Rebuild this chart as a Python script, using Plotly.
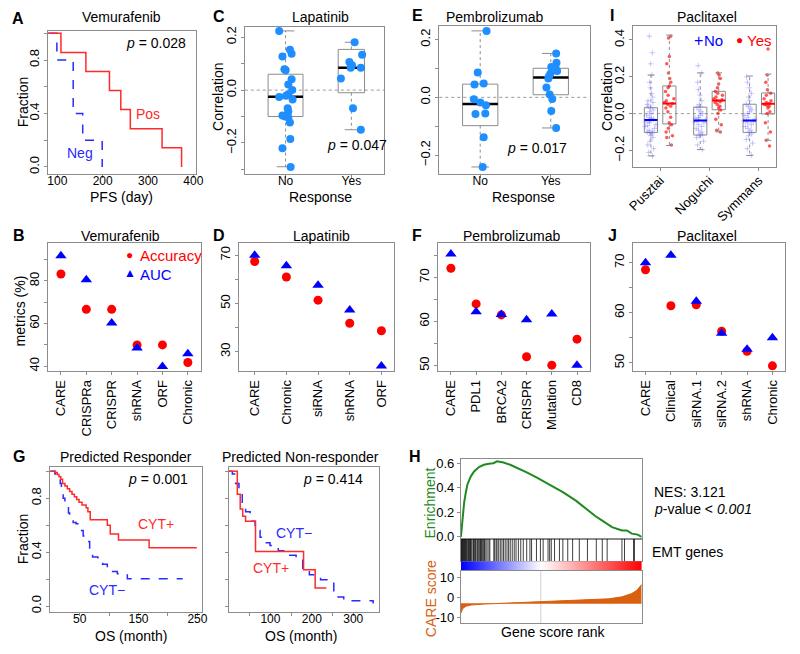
import plotly.graph_objects as go

W, H = 800, 654
FONT = "Liberation Sans, Arial, sans-serif"
GRAY = "#8c8c8c"
RED = "#ff0000"
BLUE = "#0000ff"
KRED = "#ff2a2a"
KBLUE = "#2a2aff"
DOTBLUE = "#1f8fff"
GREEN = "#1f8a1f"
ORANGE = "#d9600f"

# ---------------- DATA ----------------
# A: Vemurafenib PFS Kaplan-Meier
A_POS_DAY = [0, 108, 163, 215, 240, 261, 331, 374]
A_POS_FRAC = [1.0, 0.857, 0.714, 0.571, 0.429, 0.286, 0.143, 0.0]
A_NEG_DAY = [0, 99, 135, 156, 199]
A_NEG_FRAC = [1.0, 0.8, 0.4, 0.2, 0.0]

# C: Lapatinib correlation by response
RESPONSE = ["No", "Yes"]
C_NO_CORR = [0.224, 0.1275, 0.1525, 0.1375, 0.079, 0.075, 0.041, 0.021, 0.0, -0.016, -0.021,
             -0.026, -0.036, -0.069, -0.081, -0.096, -0.1, -0.104, -0.1225, -0.185, -0.22, -0.291]
C_NO_JIT = [-0.097, -0.047, 0.067, 0.092, -0.017, 0.002, 0.092, 0.042, 0.102, 0.042, 0.007,
            -0.097, 0.107, 0.032, 0.042, -0.047, -0.007, 0.042, 0.067, 0.072, -0.047, 0.077]
C_YES_CORR = [0.181, 0.134, 0.106, 0.094, 0.085, 0.085, 0.044, -0.069, -0.15]
C_YES_JIT = [0.05, 0.164, -0.03, 0.01, 0.144, -0.01, -0.159, 0.025, 0.144]
C_Q1 = [-0.1, -0.01]
C_MED = [-0.025, 0.085]
C_Q3 = [0.06, 0.154]
C_LO = [-0.29, -0.15]
C_HI = [0.224, 0.181]

# E: Pembrolizumab correlation by response
E_NO_CORR = [0.2297, 0.0857, 0.0446, 0.048, -0.0069, -0.018, -0.027, -0.058, -0.056, -0.138, -0.241]
E_NO_JIT = [0.09, -0.035, -0.081, 0.049, -0.09, 0.002, 0.081, -0.067, 0.072, 0.049, 0.035]
E_YES_CORR = [0.152, 0.12, 0.103, 0.105, 0.091, 0.082, 0.073, 0.065, 0.034, 0.010, -0.0057, -0.047, -0.106]
E_YES_JIT = [0.076, 0.081, 0.067, 0.007, 0.09, -0.007, -0.025, -0.035, -0.062, -0.016, 0.021, 0.007, 0.076]
E_Q1 = [-0.098, 0.009]
E_MED = [-0.023, 0.0686]
E_Q3 = [0.0457, 0.1006]
E_LO = [-0.241, -0.106]
E_HI = [0.23, 0.152]

# I: Paclitaxel correlation by study and response
I_STUDIES = ["Pusztai", "Noguchi", "Symmans"]
I_NO_Q1 = [-0.102, -0.116, -0.102]
I_NO_MED = [-0.034, -0.038, -0.038]
I_NO_Q3 = [0.032, 0.035, 0.051]
I_NO_LO = [-0.229, -0.195, -0.227]
I_NO_HI = [0.209, 0.221, 0.204]
I_YES_Q1 = [-0.056, 0.021, -0.002]
I_YES_MED = [0.055, 0.071, 0.054]
I_YES_Q3 = [0.15, 0.121, 0.112]
I_YES_LO = [-0.173, -0.099, -0.145]
I_YES_HI = [0.426, 0.221, 0.214]
I_PUSZTAI_NO = [0.42, 0.33, 0.27, 0.21, 0.17, 0.14, 0.11, 0.09, 0.07, 0.06, 0.05, 0.04, 0.03, 0.02,
                0.01, 0.0, -0.01, -0.02, -0.025, -0.03, -0.035, -0.04, -0.045, -0.05, -0.06, -0.065,
                -0.07, -0.08, -0.09, -0.095, -0.10, -0.105, -0.11, -0.12, -0.13, -0.15, -0.17, -0.19,
                -0.21, -0.23]
I_PUSZTAI_YES = [0.42, 0.41, 0.31, 0.27, 0.22, 0.19, 0.17, 0.15, 0.14, 0.12, 0.10, 0.08, 0.07, 0.06,
                 0.055, 0.05, 0.04, 0.03, 0.01, -0.02, -0.05, -0.06, -0.08, -0.10, -0.12, -0.13, -0.17]
I_NOGUCHI_NO = [0.26, 0.22, 0.17, 0.13, 0.10, 0.07, 0.05, 0.04, 0.035, 0.02, 0.01, 0.0, -0.01, -0.02,
                -0.025, -0.03, -0.035, -0.04, -0.045, -0.05, -0.06, -0.07, -0.08, -0.09, -0.10, -0.11,
                -0.115, -0.12, -0.13, -0.15, -0.17, -0.195]
I_NOGUCHI_YES = [0.22, 0.21, 0.19, 0.16, 0.14, 0.12, 0.11, 0.10, 0.09, 0.08, 0.075, 0.07, 0.065, 0.06,
                 0.05, 0.04, 0.03, 0.02, 0.0, -0.03, -0.06, -0.09, -0.10]
I_SYMMANS_NO = [0.20, 0.17, 0.14, 0.11, 0.09, 0.07, 0.05, 0.04, 0.03, 0.02, 0.01, 0.0, -0.01, -0.02,
                -0.03, -0.035, -0.04, -0.045, -0.05, -0.06, -0.07, -0.08, -0.09, -0.10, -0.11, -0.12,
                -0.14, -0.16, -0.19, -0.225]
I_SYMMANS_YES = [0.35, 0.21, 0.17, 0.13, 0.11, 0.10, 0.08, 0.07, 0.06, 0.055, 0.05, 0.045, 0.04, 0.03,
                 0.01, 0.0, -0.05, -0.10, -0.145, -0.175]
I_NO_POINTS = [I_PUSZTAI_NO, I_NOGUCHI_NO, I_SYMMANS_NO]
I_YES_POINTS = [I_PUSZTAI_YES, I_NOGUCHI_YES, I_SYMMANS_YES]

# B, D, F, J: metrics (%)
B_METHODS = ["CARE", "CRISPRa", "CRISPR", "shRNA", "ORF", "Chronic"]
B_ACC = [83.3, 66.7, 66.7, 50.0, 50.0, 41.7]
B_AUC = [91.8, 80.6, 60.3, 48.5, 39.8, 45.8]
D_METHODS = ["CARE", "Chronic", "siRNA", "shRNA", "ORF"]
D_ACC = [67.4, 61.0, 51.4, 41.8, 38.7]
D_AUC = [70.0, 65.6, 57.6, 47.3, 24.1]
F_METHODS = ["CARE", "PDL1", "BRCA2", "CRISPR", "Mutation", "CD8"]
F_ACC = [72.1, 64.0, 61.5, 52.0, 50.1, 56.0]
F_AUC = [75.3, 62.2, 61.6, 60.4, 61.7, 50.1]
J_METHODS = ["CARE", "Clinical", "siRNA.1", "siRNA.2", "shRNA", "Chronic"]
J_ACC = [68.6, 61.4, 61.6, 56.3, 52.3, 49.4]
J_AUC = [70.0, 71.5, 62.3, 55.9, 52.7, 55.0]

# G: OS Kaplan-Meier (month)
G_R_POS_T = [0, 8, 12, 15, 18, 21, 25, 29, 33, 37, 41, 45, 49, 54, 61, 64, 68, 97, 102, 116, 168, 249]
G_R_POS_S = [1.0, 0.99, 0.975, 0.96, 0.94, 0.91, 0.89, 0.87, 0.85, 0.83, 0.81, 0.79, 0.77, 0.75,
             0.73, 0.70, 0.64, 0.60, 0.535, 0.49, 0.432, 0.432]
G_R_NEG_T = [0, 8, 14, 17, 19, 22, 25, 28, 31, 33, 39, 44, 50, 56, 61, 67, 72, 81, 89, 97, 106, 114, 131, 225]
G_R_NEG_S = [1.0, 0.98, 0.945, 0.91, 0.85, 0.80, 0.76, 0.73, 0.69, 0.64, 0.62, 0.61, 0.56, 0.52,
             0.48, 0.40, 0.365, 0.34, 0.31, 0.28, 0.256, 0.24, 0.203, 0.203]
G_N_POS_T = [0, 20, 27, 33, 40, 64, 180, 208, 235]
G_N_POS_S = [1.0, 0.83, 0.72, 0.667, 0.63, 0.405, 0.27, 0.135, 0.135]
G_N_NEG_T = [0, 8, 16, 24, 32, 40, 51, 63, 75, 87, 99, 119, 142, 162, 178, 194, 221, 253, 277, 348]
G_N_NEG_S = [1.0, 0.98, 0.91, 0.835, 0.76, 0.70, 0.63, 0.56, 0.51, 0.47, 0.45, 0.41, 0.377, 0.34,
             0.28, 0.232, 0.196, 0.068, 0.039, 0.02]

# H: GSEA enrichment
H_ENR_RANK = [0, 0.009, 0.018, 0.027, 0.036, 0.055, 0.073, 0.1, 0.127, 0.155, 0.18, 0.2, 0.236,
              0.273, 0.309, 0.364, 0.418, 0.491, 0.564, 0.636, 0.709, 0.745, 0.782, 0.836, 0.891,
              0.918, 0.945, 0.978, 1.0]
H_ENR = [0, 0.147, 0.28, 0.36, 0.427, 0.493, 0.533, 0.568, 0.587, 0.595, 0.6, 0.615, 0.605, 0.587,
         0.565, 0.525, 0.485, 0.427, 0.365, 0.295, 0.205, 0.168, 0.133, 0.08, 0.053, 0.053, 0.027,
         0.019, 0.0]
H_EMT_RANKS = [0.003, 0.005, 0.008, 0.011, 0.014, 0.018, 0.021, 0.024, 0.027, 0.031, 0.036, 0.042,
               0.045, 0.049, 0.052, 0.055, 0.06, 0.067, 0.07, 0.076, 0.08, 0.084, 0.091, 0.095, 0.1,
               0.105, 0.109, 0.113, 0.117, 0.122, 0.127, 0.131, 0.138, 0.145, 0.155, 0.16, 0.182,
               0.187, 0.195, 0.2, 0.209, 0.218, 0.227, 0.236, 0.245, 0.255, 0.264, 0.273, 0.284,
               0.295, 0.305, 0.318, 0.331, 0.345, 0.364, 0.382, 0.391, 0.418, 0.44, 0.455, 0.482,
               0.491, 0.5, 0.518, 0.545, 0.564, 0.591, 0.618, 0.655, 0.7, 0.749, 0.782, 0.809,
               0.891, 0.905, 0.955, 0.96]
H_GRAD_RANK = [0.0, 0.442, 1.0]
H_SCORE_RANK = [0, 0.009, 0.027, 0.055, 0.127, 0.218, 0.309, 0.436, 0.582, 0.709, 0.818, 0.891,
                0.945, 0.973, 0.991, 1.0]
H_SCORE = [-7.9, -5.7, -4.4, -3.8, -3.3, -2.95, -2.8, -2.3, -1.8, -1.3, -0.66, 0.33, 2.0, 3.6, 5.7, 6.6]
H_SCORE_BASE = -3.0
H_SCORE_ZERO_RANK = 0.442

# ---------------- FIGURE ----------------
fig = go.Figure()
axes = {}
shapes = []
annotations = []


def dom_x(l, r):
    return [l / W, r / W]


def dom_y(t, b):
    return [1 - b / H, 1 - t / H]


def base_axis(**kw):
    d = dict(showline=True, mirror=True, linecolor=GRAY, linewidth=1, ticks="outside",
             ticklen=3, tickcolor=GRAY, tickwidth=1, showgrid=False, zeroline=False,
             tickfont=dict(size=13, color="black", family=FONT), fixedrange=True)
    d.update(kw)
    return d


def add_axes(n, xpx, ypx, xr, yr, xkw=None, ykw=None):
    xk = "xaxis" if n == 1 else f"xaxis{n}"
    yk = "yaxis" if n == 1 else f"yaxis{n}"
    xa = "x" if n == 1 else f"x{n}"
    ya = "y" if n == 1 else f"y{n}"
    axes[xk] = base_axis(domain=dom_x(*xpx), range=xr, anchor=ya, **(xkw or {}))
    axes[yk] = base_axis(domain=dom_y(*ypx), range=yr, anchor=xa, **(ykw or {}))
    return xa, ya


def txt(x, y, s, size=14, color="black", xa="center", ya="middle", angle=0):
    annotations.append(dict(x=x / W, y=1 - y / H, xref="paper", yref="paper", text=s,
                            showarrow=False, xanchor=xa, yanchor=ya, textangle=angle,
                            font=dict(size=size, color=color, family=FONT)))


def letter(x, y, s):
    txt(x, y, "<b>" + s + "</b>", size=16)


def boxplot(xa, ya, pos, w, q1, med, q3, lo, hi, medcolor, medw):
    fig.add_trace(go.Box(x=[pos], q1=[q1], median=[med], q3=[q3], lowerfence=[q1],
                         upperfence=[q3], width=w, whiskerwidth=0,
                         line=dict(color=GRAY, width=1), fillcolor="rgba(0,0,0,0)",
                         xaxis=xa, yaxis=ya, hoverinfo="skip"))
    fig.add_trace(go.Scatter(x=[pos, pos, None, pos, pos], y=[q3, hi, None, q1, lo], mode="lines",
                             line=dict(color=GRAY, width=1, dash="dot"), xaxis=xa, yaxis=ya,
                             hoverinfo="skip"))
    cw = w / 2
    fig.add_trace(go.Scatter(x=[pos - cw / 2, pos + cw / 2, None, pos - cw / 2, pos + cw / 2],
                             y=[hi, hi, None, lo, lo], mode="lines",
                             line=dict(color=GRAY, width=1), xaxis=xa, yaxis=ya, hoverinfo="skip"))
    fig.add_trace(go.Scatter(x=[pos - w / 2, pos + w / 2], y=[med, med], mode="lines",
                             line=dict(color=medcolor, width=medw), xaxis=xa, yaxis=ya,
                             hoverinfo="skip"))


def hline0(xa, ya, color="#999999"):
    shapes.append(dict(type="line", xref=f"{xa} domain", yref=ya, x0=0, x1=1, y0=0, y1=0,
                       line=dict(color=color, width=1, dash="dot"), layer="below"))


CLOSE = dict(ticklabelstandoff=-7, tickfont=dict(size=12, color="black", family=FONT))

# ---- A ----
xa, ya = add_axes(1, (43, 193), (28, 173), [80, 405], [-0.05, 1.02],
                  xkw=dict(tickvals=[100, 200, 300, 400], **CLOSE),
                  ykw=dict(tickvals=[0, 0.2, 0.4, 0.6, 0.8, 1.0],
                           ticktext=["0.0", "", "0.4", "", "0.8", ""], tickangle=-90))
fig.add_trace(go.Scatter(x=A_NEG_DAY, y=A_NEG_FRAC, mode="lines", line_shape="hv",
                         line=dict(color=KBLUE, width=1.5, dash="dash"), xaxis=xa, yaxis=ya))
fig.add_trace(go.Scatter(x=A_POS_DAY, y=A_POS_FRAC, mode="lines", line_shape="hv",
                         line=dict(color=KRED, width=1.5), xaxis=xa, yaxis=ya))
letter(12, 16, "A")
txt(118, 14, "Vemurafenib")
txt(17, 100, "Fraction", angle=-90)
txt(118, 197, "PFS (day)")
txt(153, 41, "<i>p</i> = 0.028")
txt(145, 113, "Pos", color=KRED)
txt(75, 152, "Neg", color=KBLUE)

# ---- C ----
corr_ticks = dict(tickvals=[-0.3, -0.2, -0.1, 0, 0.1, 0.2],
                  ticktext=["", "\u22120.2", "", "0.0", "", "0.2"], tickangle=-90)
xa, ya = add_axes(2, (243, 385), (24, 173), [0.38, 2.5], [-0.316, 0.24],
                  xkw=dict(tickvals=[1, 2], ticktext=RESPONSE, **CLOSE), ykw=corr_ticks)
hline0(xa, ya)
for i, wd in enumerate([0.53, 0.40]):
    boxplot(xa, ya, i + 1, wd, C_Q1[i], C_MED[i], C_Q3[i], C_LO[i], C_HI[i], "black", 2.5)
fig.add_trace(go.Scatter(x=[1 + j for j in C_NO_JIT] + [2 + j for j in C_YES_JIT],
                         y=C_NO_CORR + C_YES_CORR, mode="markers",
                         marker=dict(color=DOTBLUE, size=8), xaxis=xa, yaxis=ya))
letter(217, 14, "C")
txt(320, 14, "Lapatinib")
txt(215, 95, "Correlation", angle=-90)
txt(320, 197, "Response")
txt(357, 144, "<i>p</i> = 0.047")

# ---- E ----
xa, ya = add_axes(3, (441, 594), (23, 173), [0.42, 2.55], [-0.264, 0.248],
                  xkw=dict(tickvals=[1, 2], ticktext=RESPONSE, **CLOSE),
                  ykw=dict(tickvals=[-0.2, -0.1, 0, 0.1, 0.2],
                           ticktext=["\u22120.2", "", "0.0", "", "0.2"], tickangle=-90))
hline0(xa, ya)
for i in range(2):
    boxplot(xa, ya, i + 1, 0.5, E_Q1[i], E_MED[i], E_Q3[i], E_LO[i], E_HI[i], "black", 2.5)
fig.add_trace(go.Scatter(x=[1 + j for j in E_NO_JIT] + [2 + j for j in E_YES_JIT],
                         y=E_NO_CORR + E_YES_CORR, mode="markers",
                         marker=dict(color=DOTBLUE, size=8), xaxis=xa, yaxis=ya))
letter(419, 13, "E")
txt(497, 14, "Pembrolizumab")
txt(527, 197, "Response")
txt(540, 147, "<i>p</i> = 0.017")

# ---- I ----
xa, ya = add_axes(4, (638, 784), (23, 166), [0.447, 3.353], [-0.288, 0.477],
                  xkw=dict(tickvals=[1, 2, 3], ticktext=I_STUDIES, tickangle=-45,
                           ticklabelstandoff=-3),
                  ykw=dict(tickvals=[-0.2, 0, 0.2, 0.4], ticktext=["\u22120.2", "0.0", "0.2", "0.4"],
                           tickangle=-90))
hline0(xa, ya)
OFF = 0.187
BW = 0.267
for g in range(3):
    boxplot(xa, ya, g + 1 - OFF, BW, I_NO_Q1[g], I_NO_MED[g], I_NO_Q3[g], I_NO_LO[g], I_NO_HI[g], BLUE, 2)
    boxplot(xa, ya, g + 1 + OFF, BW, I_YES_Q1[g], I_YES_MED[g], I_YES_Q3[g], I_YES_LO[g], I_YES_HI[g], RED, 2)
for g in range(3):
    fig.add_trace(go.Box(x=[g + 1 - OFF] * len(I_NO_POINTS[g]), y=I_NO_POINTS[g], boxpoints="all",
                         jitter=0.9, pointpos=0, width=BW, line=dict(width=0, color="rgba(0,0,0,0)"),
                         fillcolor="rgba(0,0,0,0)", xaxis=xa, yaxis=ya, hoverinfo="skip",
                         marker=dict(symbol="cross-thin-open", size=4, color="rgba(80,80,255,0.3)",
                                     line=dict(color="rgba(80,80,255,0.3)", width=1))))
    fig.add_trace(go.Box(x=[g + 1 + OFF] * len(I_YES_POINTS[g]), y=I_YES_POINTS[g], boxpoints="all",
                         jitter=0.8, pointpos=0, width=BW, line=dict(width=0, color="rgba(0,0,0,0)"),
                         fillcolor="rgba(0,0,0,0)", xaxis=xa, yaxis=ya, hoverinfo="skip",
                         marker=dict(symbol="circle", size=3.5, color="rgba(255,0,0,0.65)")))
letter(617, 13, "I")
txt(713, 14, "Paclitaxel")
txt(611, 95, "Correlation", angle=-90)
txt(705, 38, "+", color=BLUE, size=16)
txt(720, 38, "No", color=BLUE, size=15)
txt(747, 38, "\u25cf", color=RED, size=12)
txt(766, 38, "Yes", color=RED, size=15)


# ---- metric panels ----
def metric_panel(n, xpx, cats, acc, auc, xr, yr, tv, tt):
    xa, ya = add_axes(n, xpx, (243, 373), xr, yr,
                      xkw=dict(type="category", tickangle=-90),
                      ykw=dict(tickvals=tv, ticktext=tt, tickangle=-90))
    fig.add_trace(go.Scatter(x=cats, y=acc, mode="markers",
                             marker=dict(color=RED, size=9, symbol="circle"), xaxis=xa, yaxis=ya))
    fig.add_trace(go.Scatter(x=cats, y=auc, mode="markers",
                             marker=dict(color=BLUE, size=10, symbol="triangle-up"), xaxis=xa, yaxis=ya))


metric_panel(5, (43, 198), B_METHODS, B_ACC, B_AUC, [-0.5, 5.5], [37.8, 98],
             [40, 50, 60, 70, 80, 90], ["40", "", "60", "", "80", ""])
letter(13, 236, "B")
txt(117, 236, "Vemurafenib")
txt(14, 312, "metrics (%)", angle=-90)
txt(126, 256, "\u25cf", color=RED, size=12)
txt(134, 256, "Accuracy", color=RED, xa="left", size=15)
txt(126, 274, "\u25b2", color=BLUE, size=12)
txt(134, 275, "AUC", color=BLUE, xa="left", size=15)

metric_panel(6, (237, 395), D_METHODS, D_ACC, D_AUC, [-0.5, 4.4], [22.1, 75.2],
             [30, 40, 50, 60, 70], ["30", "", "50", "", "70"])
letter(217, 236, "D")
txt(321, 236, "Lapatinib")

metric_panel(7, (440, 594), F_METHODS, F_ACC, F_AUC, [-0.5, 5.5], [48.8, 77.9],
             [50, 55, 60, 65, 70, 75], ["50", "", "60", "", "70", ""])
letter(418, 236, "F")
txt(515, 236, "Pembrolizumab")

metric_panel(8, (638, 793), J_METHODS, J_ACC, J_AUC, [-0.5, 5.5], [48.4, 74.0],
             [50, 55, 60, 65, 70], ["50", "", "60", "", "70"])
letter(617, 236, "J")
txt(713, 236, "Paclitaxel")

# ---- G ----
frac_ticks = dict(tickvals=[0, 0.2, 0.4, 0.6, 0.8, 1.0], ticktext=["0.0", "", "0.4", "", "0.8", ""],
                  tickangle=-90)
xa, ya = add_axes(9, (45, 199), (470, 617), [0, 257], [-0.04, 1.035],
                  xkw=dict(tickvals=[50, 100, 150, 200, 250], ticktext=["50", "", "150", "", "250"],
                           **CLOSE),
                  ykw=frac_ticks)
fig.add_trace(go.Scatter(x=G_R_NEG_T, y=G_R_NEG_S, mode="lines", line_shape="hv",
                         line=dict(color=KBLUE, width=1.5, dash="dash"), xaxis=xa, yaxis=ya))
fig.add_trace(go.Scatter(x=G_R_POS_T, y=G_R_POS_S, mode="lines", line_shape="hv",
                         line=dict(color=KRED, width=1.5), xaxis=xa, yaxis=ya))
letter(13, 460, "G")
txt(122, 460, "Predicted Responder")
txt(17, 543, "Fraction", angle=-90)
txt(127, 642, "OS (month)")
txt(155, 483, "<i>p</i> = 0.001")
txt(153, 528, "CYT+", color=KRED)
txt(103, 595, "CYT\u2212", color=KBLUE)

xa, ya = add_axes(10, (227, 380), (470, 617), [0, 363], [-0.04, 1.035],
                  xkw=dict(tickvals=[50, 100, 150, 200, 250, 300],
                           ticktext=["", "100", "", "200", "", "300"], **CLOSE),
                  ykw=dict(tickvals=[0, 0.2, 0.4, 0.6, 0.8, 1.0], showticklabels=False))
fig.add_trace(go.Scatter(x=G_N_NEG_T, y=G_N_NEG_S, mode="lines", line_shape="hv",
                         line=dict(color=KBLUE, width=1.5, dash="dash"), xaxis=xa, yaxis=ya))
fig.add_trace(go.Scatter(x=G_N_POS_T, y=G_N_POS_S, mode="lines", line_shape="hv",
                         line=dict(color=KRED, width=1.5), xaxis=xa, yaxis=ya))
txt(300, 460, "Predicted Non-responder")
txt(300, 642, "OS (month)")
txt(333, 483, "<i>p</i> = 0.414")
txt(293, 537, "CYT\u2212", color=KBLUE)
txt(270, 573, "CYT+", color=KRED)

# ---- H ----
noxt = dict(showticklabels=False, ticks="")
xa, ya = add_axes(11, (463, 647), (462, 543), [0, 1], [-0.013, 0.637], xkw=noxt,
                  ykw=dict(tickvals=[0, 0.2, 0.4, 0.6], ticktext=["0.0", "0.2", "0.4", "0.6"]))
fig.add_trace(go.Scatter(x=H_ENR_RANK, y=H_ENR, mode="lines", line=dict(color=GREEN, width=2),
                         xaxis=xa, yaxis=ya))

xa, ya = add_axes(12, (463, 647), (543, 566), [0, 1], [0, 1], xkw=noxt,
                  ykw=dict(showticklabels=False, ticks=""))
bx, by = [], []
for p in H_EMT_RANKS:
    bx += [p, p, None]
    by += [0, 1, None]
fig.add_trace(go.Scatter(x=bx, y=by, mode="lines", line=dict(color="rgba(0,0,0,0.75)", width=1),
                         xaxis=xa, yaxis=ya))

xa, ya = add_axes(13, (463, 647), (566, 576), [0, 1], [0, 1],
                  xkw=dict(showticklabels=False, ticks="", showline=False),
                  ykw=dict(showticklabels=False, ticks="", showline=False))
fig.add_trace(go.Heatmap(x=H_GRAD_RANK, y=[0, 1], z=[H_GRAD_RANK, H_GRAD_RANK], zmin=0, zmax=1,
                         zsmooth="best", showscale=False,
                         colorscale=[[0, "#0000ff"], [H_SCORE_ZERO_RANK, "#ffffff"], [1, "#ff0000"]],
                         xaxis=xa, yaxis=ya, hoverinfo="skip"))

xa, ya = add_axes(14, (463, 647), (576, 629), [0, 1], [-13, 13.3], xkw=noxt,
                  ykw=dict(tickvals=[-10, 0, 10], ticktext=["-10", "0", "10"]))
shapes.append(dict(type="line", xref=xa, yref=f"{ya} domain", x0=H_SCORE_ZERO_RANK,
                   x1=H_SCORE_ZERO_RANK, y0=0, y1=1, line=dict(color="#d0d0d0", width=1),
                   layer="below"))
fig.add_trace(go.Scatter(x=[H_SCORE_RANK[0], H_SCORE_RANK[-1]], y=[H_SCORE_BASE, H_SCORE_BASE],
                         mode="lines", line=dict(color=ORANGE, width=0.5), xaxis=xa, yaxis=ya))
fig.add_trace(go.Scatter(x=H_SCORE_RANK, y=H_SCORE, mode="lines", fill="tonexty",
                         fillcolor=ORANGE, line=dict(color=ORANGE, width=1), xaxis=xa, yaxis=ya))
letter(416, 460, "H")
txt(432, 507, "Enrichment", color=GREEN, angle=-90)
txt(432, 604, "CARE score", color=ORANGE, angle=-90)
txt(557, 638, "Gene score rank")
txt(658, 496, "NES: 3.121", xa="left")
txt(658, 513, "<i>p</i>-value &lt; <i>0.001</i>", xa="left")
txt(655, 557, "EMT genes", xa="left")

fig.update_layout(width=W, height=H, margin=dict(l=0, r=0, t=0, b=0), showlegend=False,
                  plot_bgcolor="white", paper_bgcolor="white", font=dict(family=FONT, size=13),
                  shapes=shapes, annotations=annotations, boxmode="overlay", **axes)
fig.write_html("out.html", config={"displayModeBar": False},
               post_script="document.body.style.margin='0px';")
